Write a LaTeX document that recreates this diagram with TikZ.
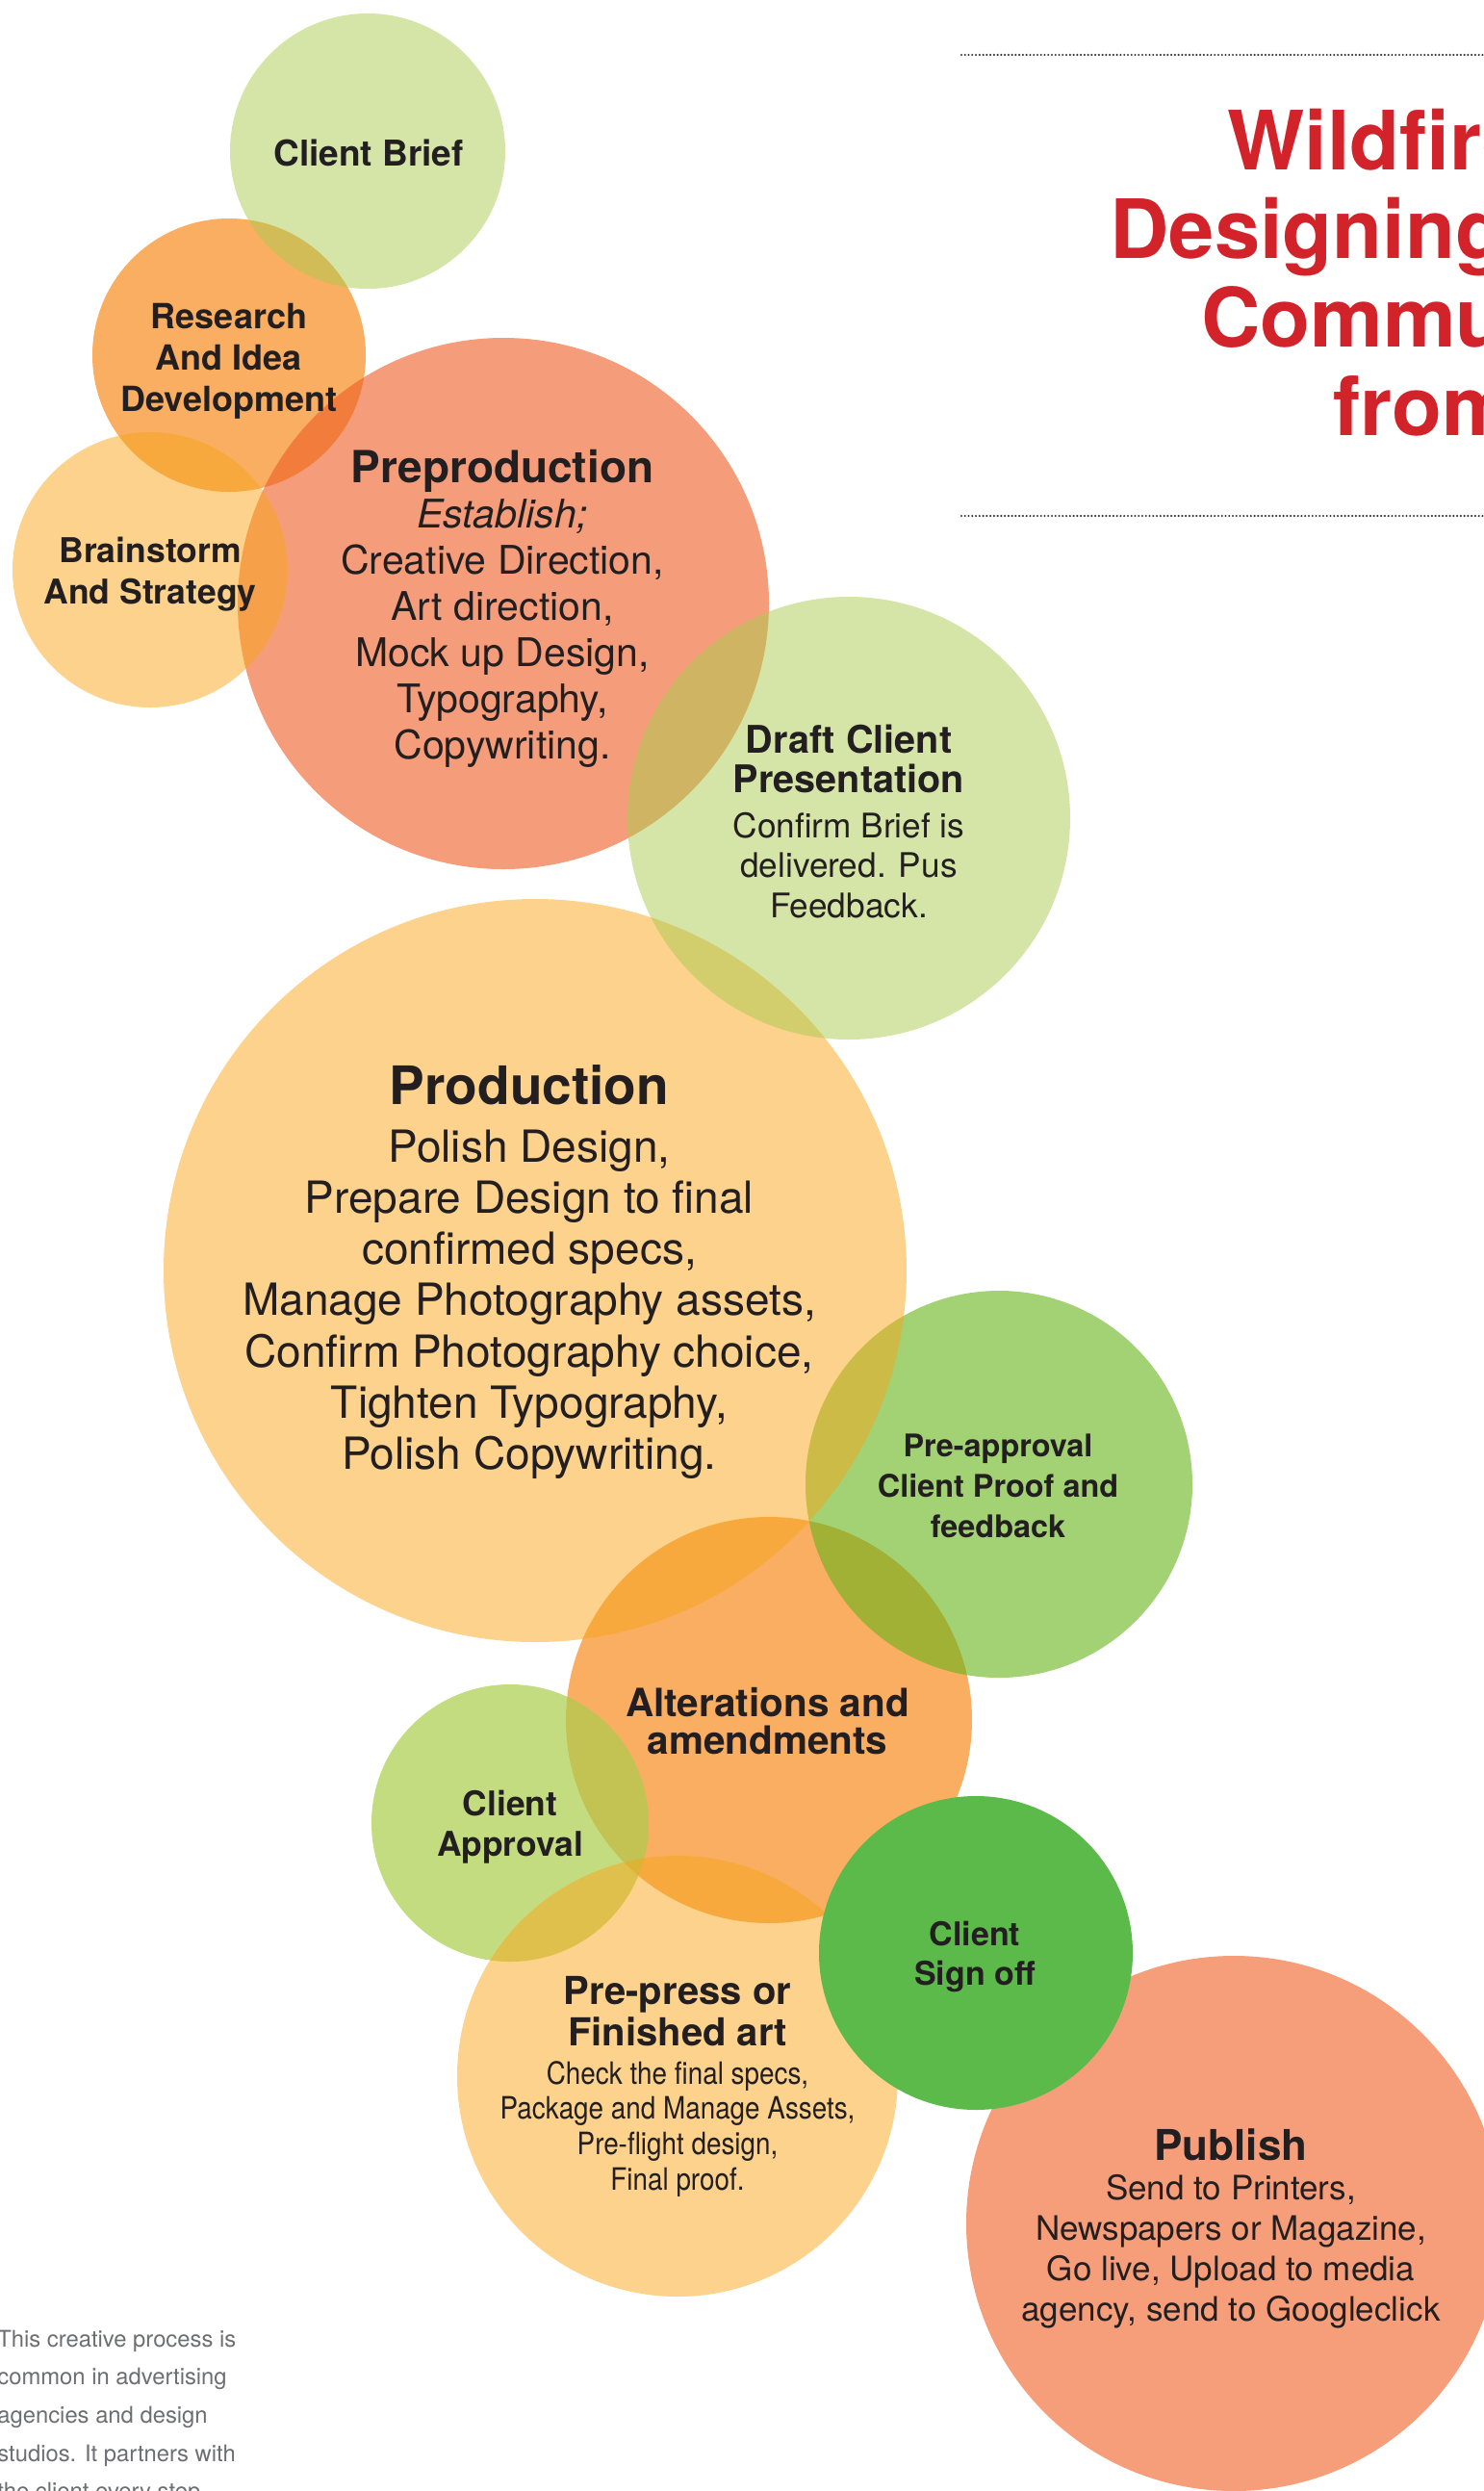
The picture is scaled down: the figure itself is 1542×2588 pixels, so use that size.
\documentclass[tikz,border=0pt]{standalone}
\usepackage{fontspec}
\setmainfont{TeX Gyre Heros}
\newfontfamily\condfont{TeX Gyre Heros}[FakeStretch=0.87]
\definecolor{cbBase}{RGB}{171,203,79}
\definecolor{raBase}{RGB}{246,130,14}
\definecolor{ypBase}{RGB}{249,165,27}
\definecolor{ppBase}{RGB}{238,92,33}
\definecolor{paBase}{RGB}{100,180,23}
\definecolor{caBase}{RGB}{171,205,74}
\definecolor{pubCol}{RGB}{246,158,122}
\definecolor{soCol}{RGB}{91,186,74}
\definecolor{titleRed}{RGB}{210,35,42}
\definecolor{ink}{RGB}{35,31,32}
\definecolor{noteGray}{RGB}{109,110,113}
\definecolor{dotGray}{RGB}{55,55,55}
\newcommand\cstack[1]{\vtop{\lineskiplimit=-100pt\lineskip=0pt\halign{\hfil##\hfil\cr#1\crcr}}}
\newcommand\lstack[1]{\vtop{\lineskiplimit=-100pt\lineskip=0pt\halign{##\hfil\cr#1\crcr}}}
\newcommand\hdb[1]{\fontsize{#1}{#1}\selectfont\bfseries}
\newcommand\hdr[1]{\fontsize{#1}{#1}\selectfont\rmfamily\bfseries}
\begin{document}
\begin{tikzpicture}[x=0.5pt,y=-0.5pt,
  bubble/.style={circle, inner sep=0pt, draw=none},
  lbl/.style={anchor=base, inner sep=0pt, text=ink},
  dotline/.style={draw=dotGray, line width=1.2pt, line cap=round, dash pattern=on 0pt off 1.88pt}]
\useasboundingbox (0,0) rectangle (1542,2588);
\clip (0,0) rectangle (1542,2588);
% circles
\node[bubble, fill=raBase, fill opacity=0.65, minimum size=211pt] (alter) at (799,1787) {};
\node[bubble, fill=paBase, fill opacity=0.6, minimum size=201pt] (preappr) at (1038,1542) {};
\node[bubble, fill=ypBase, fill opacity=0.5, minimum size=386pt] (prod) at (556,1320) {};
\node[bubble, fill=raBase, fill opacity=0.65, minimum size=142pt] (research) at (238,369) {};
\node[bubble, fill=ppBase, fill opacity=0.6, minimum size=276pt] (preprod) at (523,627) {};
\node[bubble, fill=cbBase, fill opacity=0.5, minimum size=143pt] (brief) at (382,157) {};
\node[bubble, fill=ypBase, fill opacity=0.5, minimum size=143pt] (brain) at (156,592) {};
\node[bubble, fill=cbBase, fill opacity=0.5, minimum size=230pt] (draft) at (882,850) {};
\node[bubble, fill=caBase, fill opacity=0.7, minimum size=144pt] (appr) at (530,1894) {};
\node[bubble, fill=ypBase, fill opacity=0.5, minimum size=229pt] (prepress) at (704,2157) {};
\node[bubble, fill=pubCol, minimum size=278pt] (publish) at (1282,2310) {};
\node[bubble, fill=soCol, minimum size=163pt] (signoff) at (1014,2029) {};
% dotted rules
\coordinate (d1a) at (999,57);
\coordinate (d1b) at (1545,57);
\coordinate (d2a) at (999,536);
\coordinate (d2b) at (1545,536);
\draw[dotline] (d1a) -- (d1b);
\draw[dotline] (d2a) -- (d2b);
% title
\node[anchor=base west, inner sep=0pt, text=titleRed, font=\fontsize{42.5}{51}\selectfont\bfseries] (t1) at (1275,176) {Wildfire};
\node[anchor=base west, inner sep=0pt, text=titleRed, font=\fontsize{42.5}{51}\selectfont\bfseries] (t2) at (1153,268) {Designing};
\node[anchor=base west, inner sep=0pt, text=titleRed, font=\fontsize{42.5}{51}\selectfont\bfseries] (t3) at (1248,360) {Communication};
\node[anchor=base west, inner sep=0pt, text=titleRed, font=\fontsize{42.5}{51}\selectfont\bfseries] (t4) at (1385,452) {from};
% labels
\node[lbl, font=\fontsize{18.5}{22}\selectfont\bfseries] (tbrief) at (383,172.5) {Client Brief};
\node[lbl, font=\fontsize{18}{21.5}\selectfont\bfseries] (tresearch) at (238,341) {\cstack{Research\cr And Idea\cr Development}};
\node[lbl, font=\fontsize{17.75}{21.5}\selectfont\bfseries] (tbrain) at (156,584) {\cstack{Brainstorm\cr And Strategy}};
\node[lbl, font=\fontsize{20.5}{24}\selectfont] (tpreprod) at (522,501) {\cstack{\hdb{23}Preproduction\cr\noalign{\vskip-0.5pt} \itshape Establish;\cr Creative Direction,\cr Art direction,\cr Mock up Design,\cr Typography,\cr Copywriting.}};
\node[lbl, font=\fontsize{17.6}{20.75}\selectfont] (tdraft) at (882,782) {\cstack{\hdb{19.8}Draft Client\cr \hdb{19.8}Presentation\cr\noalign{\vskip2.5pt} Confirm Brief is\cr delivered. Pus\cr Feedback.}};
\node[lbl, font=\fontsize{23}{26.65}\selectfont] (tprod) at (550,1147) {\cstack{\hdb{27.5}Production\cr\noalign{\vskip3.35pt} Polish Design,\cr Prepare Design to final\cr confirmed specs,\cr Manage Photography assets,\cr Confirm Photography choice,\cr Tighten Typography,\cr Polish Copywriting.}};
\node[lbl, font=\fontsize{16.2}{21}\selectfont\bfseries] (tpreappr) at (1037,1513) {\cstack{Pre-approval\cr Client Proof and\cr feedback}};
\node[lbl, font=\fontsize{20.25}{19.5}\selectfont\bfseries] (talter) at (797.5,1783) {\cstack{Alterations and\cr amendments}};
\node[lbl, font=\fontsize{17.7}{21}\selectfont\bfseries] (tappr) at (530,1886) {\cstack{Client\cr Approval}};
\node[lbl, font=\condfont\fontsize{16}{18.35}\selectfont] (tprepress) at (704,2082) {\cstack{\hdr{20}Pre-press or\cr\noalign{\vskip3.15pt} \hdr{20}Finished art\cr\noalign{\vskip1.65pt} Check the final specs,\cr Package and Manage Assets,\cr Pre-flight design,\cr Final proof.}};
\node[lbl, font=\fontsize{17}{20.5}\selectfont\bfseries] (tsignoff) at (1013,2021) {\cstack{Client\cr Sign off}};
\node[lbl, font=\fontsize{17.5}{21.15}\selectfont] (tpublish) at (1279,2244) {\cstack{\hdb{22}Publish\cr\noalign{\vskip-0.65pt} Send to Printers,\cr Newspapers or Magazine,\cr Go live, Upload to media\cr agency, send to Googleclick}};
% side note
\node[anchor=base west, inner sep=0pt, text=noteGray, font=\fontsize{11.9}{19.85}\selectfont] (note) at (-3,2438) {\lstack{This creative process is\cr common in advertising\cr agencies and design\cr studios. It partners with\cr the client every step}};
\end{tikzpicture}
\end{document}
